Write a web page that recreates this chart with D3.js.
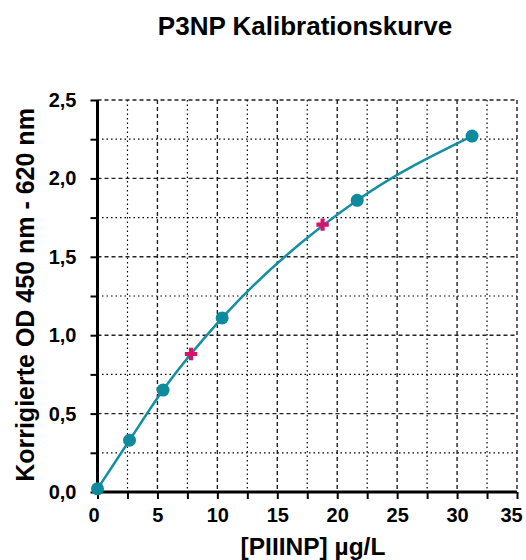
<!DOCTYPE html>
<html>
<head>
<meta charset="utf-8">
<script src="https://cdn.jsdelivr.net/npm/d3@7"></script>
<style>
  body { margin: 0; background: #fff; }
  text { font-family: "Liberation Sans", Arial, sans-serif; font-weight: bold; fill: #000; }
</style>
</head>
<body>
<div id="chart"></div>
<script>
// standard points (curve) and sample points (crosses)
var stdConc = [0.0, 2.67, 5.47, 10.4, 21.67, 31.25];
var stdOD = [0.02, 0.33, 0.65, 1.11, 1.86, 2.27];
var sampleConc = [7.8, 18.78];
var sampleOD = [0.88, 1.705];

var xTicks = [0, 5, 10, 15, 20, 25, 30, 35];
var yTicks = [0, 0.5, 1.0, 1.5, 2.0, 2.5];

var svgWidth = 526;
var svgHeight = 560;
var margin = {top: 100, right: 9, bottom: 68, left: 97.5};
var width = svgWidth - margin.left - margin.right;
var height = svgHeight - margin.top - margin.bottom;

var teal = "#13909f";
var pink = "#d5136a";

var svg = d3.select("#chart")
  .append("svg")
  .attr("width", svgWidth)
  .attr("height", svgHeight);

var chartGroup = svg.append("g")
  .attr("transform", `translate(${margin.left}, ${margin.top})`);

var x = d3.scaleLinear().domain([0, 35]).range([0, width]);
var y = d3.scaleLinear().domain([0, 2.5]).range([height, 0]);

// minor grid (dotted)
var xMinor = d3.range(2.5, 35, 5);
var yMinor = d3.range(0.25, 2.5, 0.5);
chartGroup.selectAll(".vminor").data(xMinor).enter().append("line")
  .attr("x1", d => x(d)).attr("x2", d => x(d))
  .attr("y1", 0).attr("y2", height)
  .attr("stroke", "#000").attr("stroke-width", 1.2).attr("stroke-dasharray", "1.5,3");
chartGroup.selectAll(".hminor").data(yMinor).enter().append("line")
  .attr("y1", d => y(d)).attr("y2", d => y(d))
  .attr("x1", 0).attr("x2", width)
  .attr("stroke", "#000").attr("stroke-width", 1.2).attr("stroke-dasharray", "1.5,3");

// major grid (dashed)
chartGroup.selectAll(".vmajor").data(xTicks.slice(1)).enter().append("line")
  .attr("x1", d => x(d)).attr("x2", d => x(d))
  .attr("y1", 0).attr("y2", height)
  .attr("stroke", "#222").attr("stroke-width", 1.4).attr("stroke-dasharray", "4,3");
chartGroup.selectAll(".hmajor").data(yTicks.slice(1)).enter().append("line")
  .attr("y1", d => y(d)).attr("y2", d => y(d))
  .attr("x1", 0).attr("x2", width)
  .attr("stroke", "#222").attr("stroke-width", 1.4).attr("stroke-dasharray", "4,3");

// axes
var fmt = d3.format(".1f");
var xAxis = d3.axisBottom(x)
  .tickValues(d3.range(0, 35.1, 2.5))
  .tickFormat(d => (d % 5 === 0 ? d : ""))
  .tickSize(7).tickPadding(9);
var yAxis = d3.axisLeft(y)
  .tickValues(d3.range(0, 2.51, 0.25))
  .tickFormat(d => (Math.round(d * 100) % 50 === 0 ? fmt(d).replace(".", ",") : ""))
  .tickSize(7).tickPadding(14);

var gx = chartGroup.append("g")
  .attr("transform", `translate(0, ${height})`)
  .call(xAxis);
var gy = chartGroup.append("g").call(yAxis);

[gx, gy].forEach(function(g) {
  g.select(".domain").attr("stroke", "#000").attr("stroke-width", 3);
  g.selectAll(".tick line").attr("stroke", "#000").attr("stroke-width", 2);
  g.selectAll(".tick text").style("font-size", "20px");
});
gx.select(".domain").attr("d", `M0,0H${width}`);
gy.select(".domain").attr("d", `M0,${height}V0`);
gx.selectAll(".tick text").filter(d => d === 0).attr("dx", "-4");
gx.selectAll(".tick text").filter(d => d === 35).attr("dx", "-6");

// fitted curve through standards
var stdData = stdConc.map((c, i) => ({c: c, od: stdOD[i]}));
var line = d3.line()
  .x(d => x(d.c))
  .y(d => y(d.od))
  .curve(d3.curveMonotoneX);

chartGroup.append("path")
  .datum(stdData)
  .attr("fill", "none")
  .attr("stroke", teal)
  .attr("stroke-width", 2.5)
  .attr("d", line);

chartGroup.selectAll(".std").data(stdData).enter().append("circle")
  .attr("cx", d => x(d.c))
  .attr("cy", d => y(d.od))
  .attr("r", 6.5)
  .attr("fill", "#0f8a9c");

// sample crosses
var sampleData = sampleConc.map((c, i) => ({c: c, od: sampleOD[i]}));
chartGroup.selectAll(".sample").data(sampleData).enter().append("path")
  .attr("transform", d => `translate(${x(d.c)}, ${y(d.od)})`)
  .attr("d", d3.symbol().type(d3.symbolCross).size(85))
  .attr("fill", pink);

// titles
svg.append("text")
  .attr("x", 305)
  .attr("y", 35)
  .attr("text-anchor", "middle")
  .style("font-size", "26px")
  .text("P3NP Kalibrationskurve");

svg.append("text")
  .attr("x", 313)
  .attr("y", 555)
  .attr("text-anchor", "middle")
  .style("font-size", "24.5px")
  .text("[PIIINP] µg/L");

svg.append("text")
  .attr("transform", `translate(34, 295) rotate(-90)`)
  .attr("text-anchor", "middle")
  .style("font-size", "25px")
  .text("Korrigierte OD 450 nm - 620 nm");
</script>
</body>
</html>
